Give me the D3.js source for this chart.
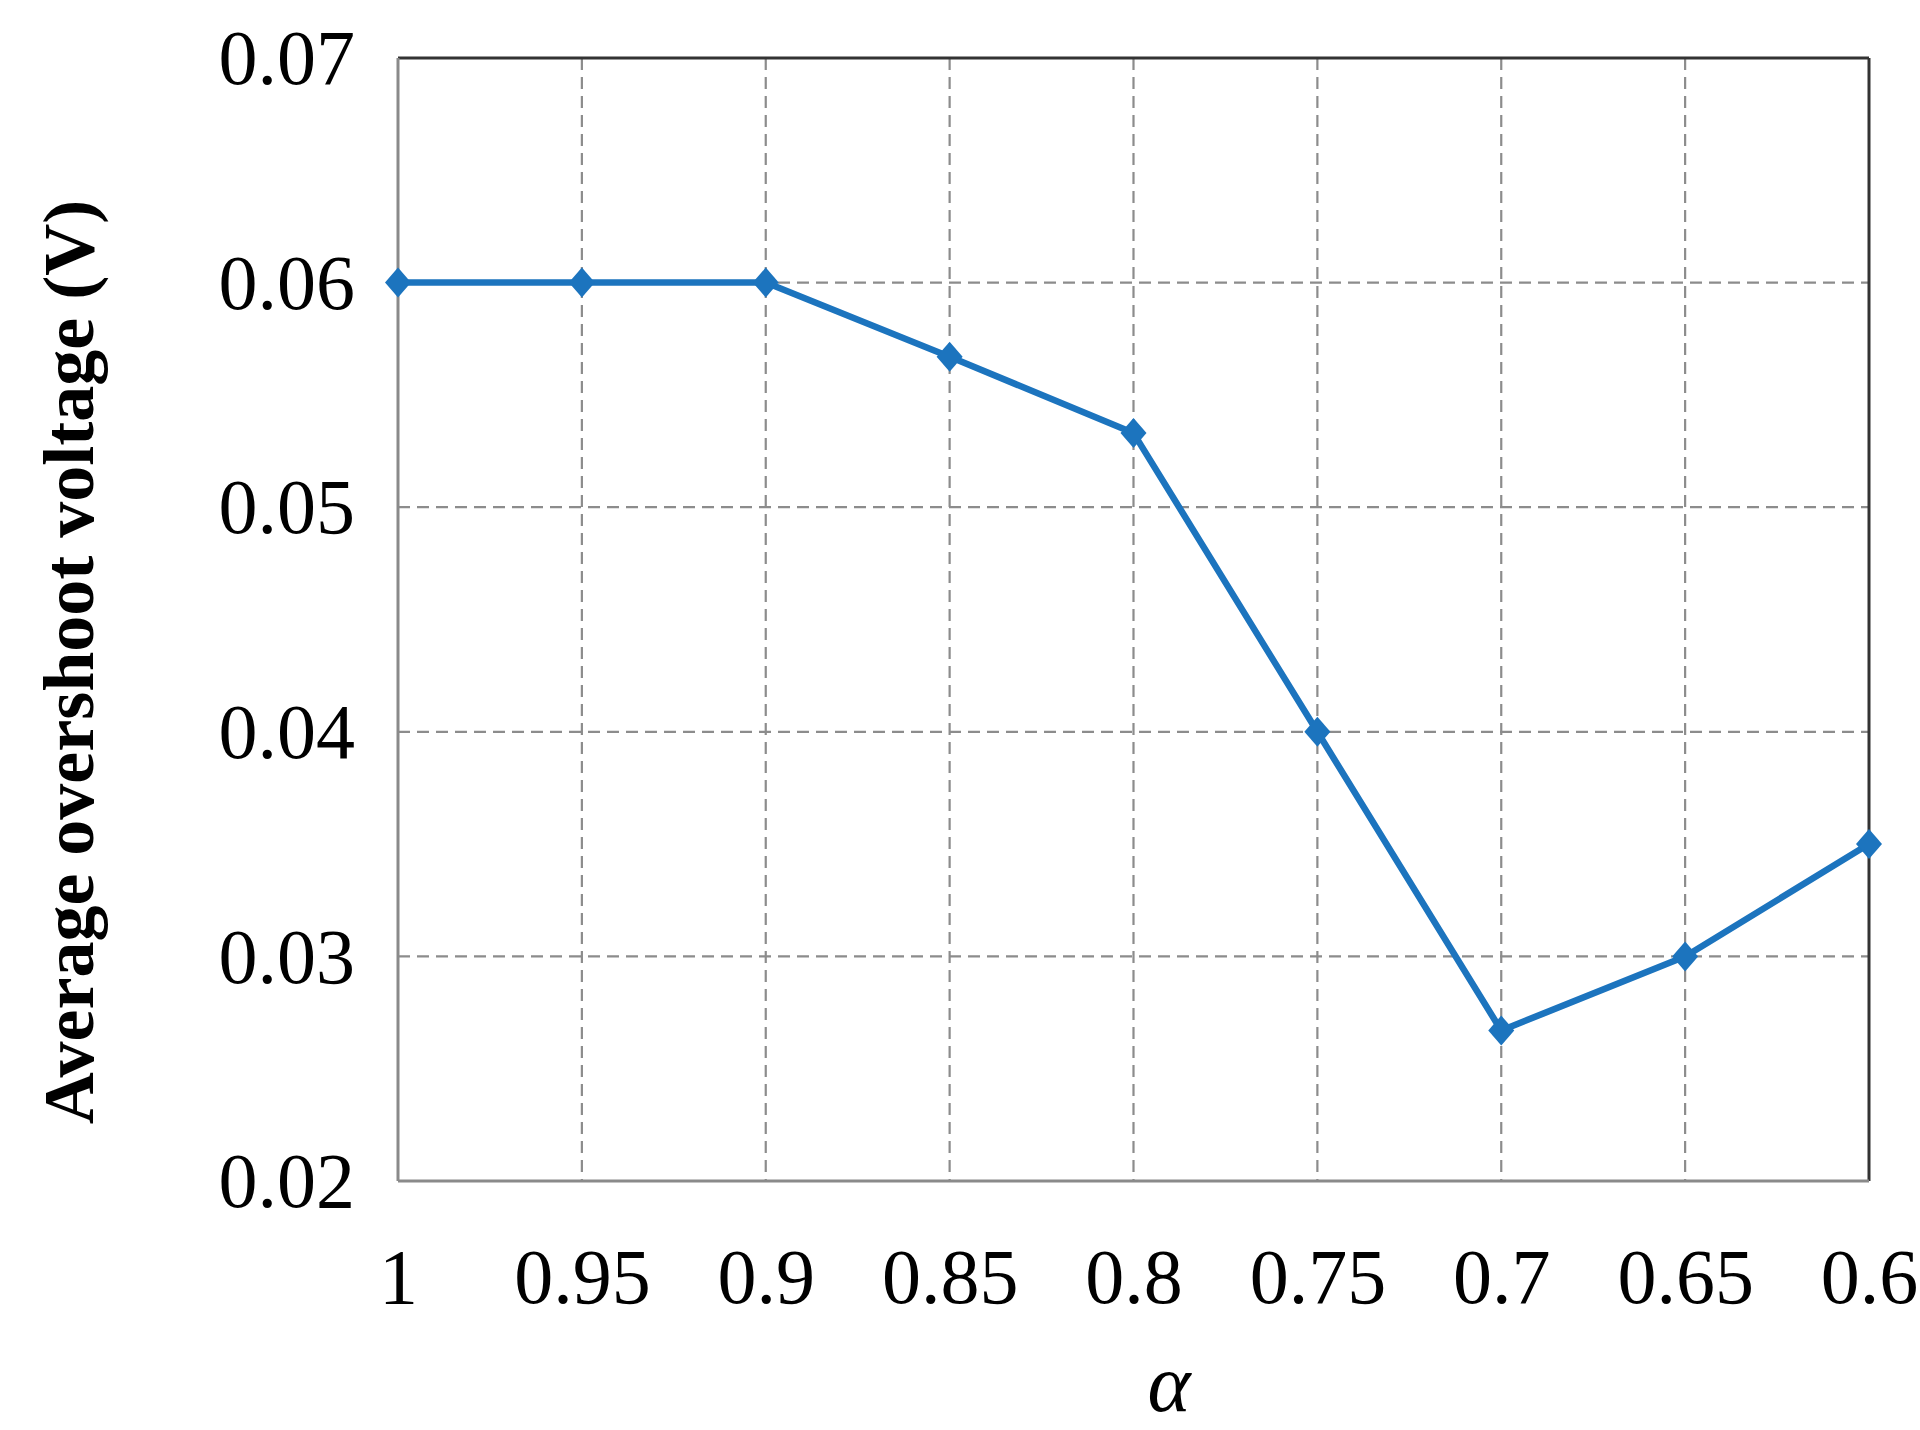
<!DOCTYPE html>
<html><head><meta charset="utf-8">
<script src="https://cdn.jsdelivr.net/npm/d3@7"></script>
<style>html,body{margin:0;padding:0;background:#fff;}</style>
</head><body>
<script>
const alphaValues = [1, 0.95, 0.9, 0.85, 0.8, 0.75, 0.7, 0.65, 0.6];
const overshootValues = [0.06, 0.06, 0.06, 0.0567, 0.0533, 0.04, 0.0267, 0.03, 0.035];
const xTickLabels = ["1", "0.95", "0.9", "0.85", "0.8", "0.75", "0.7", "0.65", "0.6"];
const yTickValues = [0.02, 0.03, 0.04, 0.05, 0.06, 0.07];
const yTickLabels = ["0.02", "0.03", "0.04", "0.05", "0.06", "0.07"];

const W = 1920, H = 1430;
const m = {left: 398, right: 1869, top: 58, bottom: 1181};
const svg = d3.select("body").append("svg").attr("width", W).attr("height", H);

const x = d3.scaleLinear().domain([1, 0.6]).range([m.left, m.right]);
const y = d3.scaleLinear().domain([0.02, 0.07]).range([m.bottom, m.top]);

const serif = "'Liberation Serif','Times New Roman',serif";
const gridColor = "#8c8c8c";

// grid
svg.append("g").selectAll("line").data(alphaValues.slice(1, -1)).join("line")
  .attr("x1", d => x(d)).attr("x2", d => x(d)).attr("y1", m.top).attr("y2", m.bottom)
  .attr("stroke", gridColor).attr("stroke-width", 2.2).attr("stroke-dasharray", "12,7");
svg.append("g").selectAll("line").data(yTickValues.slice(1, -1)).join("line")
  .attr("y1", d => y(d)).attr("y2", d => y(d)).attr("x1", m.left).attr("x2", m.right)
  .attr("stroke", gridColor).attr("stroke-width", 2.2).attr("stroke-dasharray", "12,7");

// frame
svg.append("line").attr("x1", m.left).attr("x2", m.right).attr("y1", m.top).attr("y2", m.top)
  .attr("stroke", "#333").attr("stroke-width", 3);
svg.append("line").attr("x1", m.right).attr("x2", m.right).attr("y1", m.top).attr("y2", m.bottom)
  .attr("stroke", "#333").attr("stroke-width", 3);
svg.append("line").attr("x1", m.left).attr("x2", m.left).attr("y1", m.top).attr("y2", m.bottom)
  .attr("stroke", "#8a8a8a").attr("stroke-width", 3);
svg.append("line").attr("x1", m.left).attr("x2", m.right).attr("y1", m.bottom).attr("y2", m.bottom)
  .attr("stroke", "#8a8a8a").attr("stroke-width", 3);

// axes labels via d3 axes
const xAxis = d3.axisBottom(x).tickValues(alphaValues).tickFormat((d, i) => xTickLabels[i]).tickSize(0).tickPadding(0);
const gx = svg.append("g").attr("transform", `translate(0,${m.bottom})`).call(xAxis);
gx.select(".domain").remove();
gx.selectAll("text").attr("font-family", serif).attr("font-size", 78).attr("fill", "#000")
  .attr("dy", null).attr("y", 122);

const yAxis = d3.axisLeft(y).tickValues(yTickValues).tickFormat((d, i) => yTickLabels[i]).tickSize(0).tickPadding(43);
const gy = svg.append("g").attr("transform", `translate(${m.left},0)`).call(yAxis);
gy.select(".domain").remove();
gy.selectAll("text").attr("font-family", serif).attr("font-size", 78).attr("fill", "#000").attr("dy", "0.33em");

// line
const color = "#1c74be";
svg.append("path").datum(alphaValues.map((a, i) => [a, overshootValues[i]]))
  .attr("fill", "none").attr("stroke", color).attr("stroke-width", 6.5).attr("stroke-linejoin", "round")
  .attr("d", d3.line().x(d => x(d[0])).y(d => y(d[1])));

// markers (diamonds)
svg.append("g").selectAll("path").data(alphaValues.map((a, i) => [a, overshootValues[i]])).join("path")
  .attr("transform", d => `translate(${x(d[0])},${y(d[1])})`)
  .attr("d", "M0,-15 L13,0 L0,15 L-13,0 Z")
  .attr("fill", color);

// axis titles
svg.append("text").attr("x", 1169).attr("y", 1411).attr("text-anchor", "middle")
  .attr("font-family", serif).attr("font-style", "italic").attr("font-size", 82).text("α");
svg.append("text").attr("transform", "translate(93,662) rotate(-90)").attr("text-anchor", "middle")
  .attr("font-family", serif).attr("font-weight", "bold").attr("font-size", 72)
  .text("Average overshoot voltage (V)");
</script>
</body></html>
